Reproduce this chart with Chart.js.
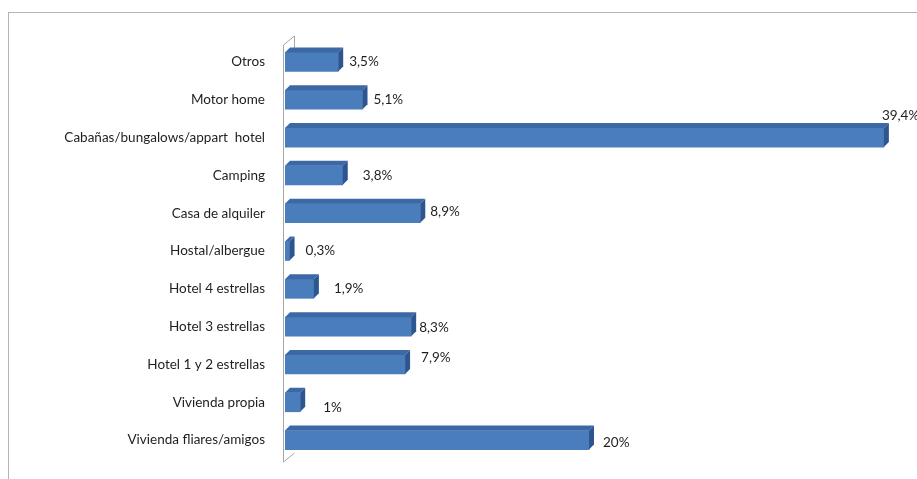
<!DOCTYPE html>
<html>
<head>
<meta charset="utf-8">
<script src="https://cdn.jsdelivr.net/npm/chart.js@4.4.1/dist/chart.umd.min.js"></script>
<style>
  html, body { margin: 0; padding: 0; background: #fff; overflow: hidden; }
  #wrap { position: relative; width: 917px; height: 479px; overflow: hidden; }
  #frame { position: absolute; left: 8px; top: 12px; width: 1000px; height: 1000px; border: 1px solid #b4b4b4; box-sizing: border-box; }
  #chart { position: absolute; left: 0; top: 0; }
</style>
</head>
<body>
<div id="wrap">
  <div id="frame"></div>
  <canvas id="chart" width="917" height="479"></canvas>
</div>
<script>
const categories = [
  'Otros', 'Motor home', 'Cabañas/bungalows/appart  hotel', 'Camping', 'Casa de alquiler',
  'Hostal/albergue', 'Hotel 4 estrellas', 'Hotel 3 estrellas', 'Hotel 1 y 2 estrellas',
  'Vivienda propia', 'Vivienda fliares/amigos'
];
const shares = [3.5, 5.1, 39.4, 3.8, 8.9, 0.3, 1.9, 8.3, 7.9, 1, 20];
const shareLabels = ['3,5%', '5,1%', '39,4%', '3,8%', '8,9%', '0,3%', '1,9%', '8,3%', '7,9%', '1%', '20%'];

// nudges for the value labels, [dx, dy] from the end of each bar
const labelNudge = [[3,0],[3,0],[-10,-22],[12,0],[2,-2],[8,0],[12,0],[0,1],[8,-7],[15,5],[6,3]];

const DEPTH = 5;
const FONT = 'Lato, "Open Sans", sans-serif';

// fake 3D: top and side faces on each bar, plus the thin back wall
const bars3d = {
  id: 'bars3d',
  beforeDatasetsDraw(chart) {
    const { ctx, chartArea } = chart;
    const l = chartArea.left - 2, t = chartArea.top, b = chartArea.bottom;
    ctx.save();
    ctx.strokeStyle = '#a6a6a6';
    ctx.lineWidth = 1;
    ctx.beginPath();
    ctx.moveTo(l + 0.5, t + 2);
    ctx.lineTo(l + 0.5, b + 3);
    ctx.lineTo(l + 11.5, b - 6);
    ctx.moveTo(l + 0.5, t + 2);
    ctx.lineTo(l + 11.5, t - 7);
    ctx.lineTo(l + 11.5, t + 6);
    ctx.stroke();
    ctx.restore();
  },
  afterDatasetsDraw(chart) {
    const { ctx } = chart;
    const meta = chart.getDatasetMeta(0);
    ctx.save();
    meta.data.forEach((bar, i) => {
      const { x, y, base, height } = bar.getProps(['x', 'y', 'base', 'height'], true);
      const top = y - height / 2, bot = y + height / 2;
      ctx.fillStyle = '#3c69a6';
      ctx.beginPath();
      ctx.moveTo(base, top);
      ctx.lineTo(base + DEPTH, top - DEPTH);
      ctx.lineTo(x + DEPTH, top - DEPTH);
      ctx.lineTo(x, top);
      ctx.closePath();
      ctx.fill();
      ctx.fillStyle = '#2d5690';
      ctx.beginPath();
      ctx.moveTo(x, top);
      ctx.lineTo(x + DEPTH, top - DEPTH);
      ctx.lineTo(x + DEPTH, bot - DEPTH);
      ctx.lineTo(x, bot);
      ctx.closePath();
      ctx.fill();

      const [dx, dy] = labelNudge[i];
      ctx.fillStyle = '#1e1e1e';
      ctx.font = '13.5px ' + FONT;
      ctx.textAlign = 'left';
      ctx.textBaseline = 'middle';
      ctx.fillText(shareLabels[i], x + DEPTH + 3 + dx, y + dy);
    });
    ctx.restore();
  }
};

new Chart(document.getElementById('chart'), {
  type: 'bar',
  data: {
    labels: categories,
    datasets: [{
      data: shares,
      backgroundColor: '#4a7dbb',
      borderWidth: 0,
      barThickness: 19
    }]
  },
  options: {
    indexAxis: 'y',
    responsive: false,
    animation: false,
    layout: { padding: { left: 0, right: 24, top: 43, bottom: 20 } },
    plugins: { legend: { display: false }, tooltip: { enabled: false } },
    scales: {
      x: { display: false, min: 0, max: 40 },
      y: {
        grid: { display: false, drawTicks: false },
        border: { display: false },
        ticks: { padding: 20, color: '#1e1e1e', font: { family: FONT, size: 13.5 } },
        afterFit(scale) {
          // fixed label column; the tick padding should not eat vertical space
          scale.width = 285;
          scale.paddingTop = 0;
          scale.paddingBottom = 0;
        }
      }
    }
  },
  plugins: [bars3d]
});
</script>
</body>
</html>
